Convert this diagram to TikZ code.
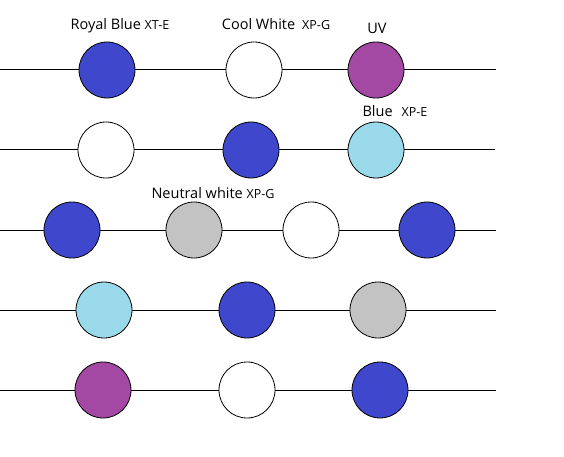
\documentclass[tikz,border=0pt]{standalone}
\usepackage{fontspec}
\setmainfont{Open Sans}
\definecolor{royal}{HTML}{3F48CC}
\definecolor{uvpurple}{HTML}{A349A4}
\definecolor{lightblue}{HTML}{99D9EA}
\definecolor{neutral}{HTML}{C3C3C3}
\tikzset{
  led/.style={circle, draw=black, line width=0.8pt, minimum size=56pt, inner sep=0pt},
  wire/.style={line width=1pt},
  ledlabel/.style={font=\fontsize{14.5}{16}\selectfont, inner sep=0pt}
}
\newcommand{\ledcode}[1]{{\fontsize{12.5}{14}\selectfont #1}}
\begin{document}
\begin{tikzpicture}[x=1pt, y=-1pt]
  \useasboundingbox (0,0) rectangle (564,457);
  % Row 1
  \coordinate (s1) at (0,70);
  \coordinate (e1) at (496,70);
  \node[led, fill=royal] (r1a) at (107,70) {};
  \node[led, fill=white] (r1b) at (254,70) {};
  \node[led, fill=uvpurple] (r1c) at (376,70) {};
  \draw[wire] (s1) -- (r1a) -- (r1b) -- (r1c) -- (e1);
  \node[ledlabel] (lroyal) at (120,26) {Royal Blue \ledcode{XT-E}};
  \node[ledlabel] (lcool) at (276,24) {Cool White\hspace{7pt}\ledcode{XP-G}};
  \node[ledlabel] (luv) at (377,28) {UV};
  % Row 2
  \coordinate (s2) at (0,150);
  \coordinate (e2) at (495,150);
  \node[led, fill=white] (r2a) at (106,150) {};
  \node[led, fill=royal] (r2b) at (251,150) {};
  \node[led, fill=lightblue] (r2c) at (376,150) {};
  \draw[wire] (s2) -- (r2a) -- (r2b) -- (r2c) -- (e2);
  \node[ledlabel] (lblue) at (395,111) {Blue\hspace{9pt}\ledcode{XP-E}};
  % Row 3
  \coordinate (s3) at (0,230);
  \coordinate (e3) at (496,230);
  \node[led, fill=royal] (r3a) at (72,230) {};
  \node[led, fill=neutral] (r3b) at (194,230) {};
  \node[led, fill=white] (r3c) at (311,230) {};
  \node[led, fill=royal] (r3d) at (427,230) {};
  \draw[wire] (s3) -- (r3a) -- (r3b) -- (r3c) -- (r3d) -- (e3);
  \node[ledlabel] (lneutral) at (213,193) {Neutral white \ledcode{XP-G}};
  % Row 4
  \coordinate (s4) at (0,310);
  \coordinate (e4) at (496,310);
  \node[led, fill=lightblue] (r4a) at (104,310) {};
  \node[led, fill=royal] (r4b) at (247,310) {};
  \node[led, fill=neutral] (r4c) at (378,310) {};
  \draw[wire] (s4) -- (r4a) -- (r4b) -- (r4c) -- (e4);
  % Row 5
  \coordinate (s5) at (0,390);
  \coordinate (e5) at (496,390);
  \node[led, fill=uvpurple] (r5a) at (103,390) {};
  \node[led, fill=white] (r5b) at (247,390) {};
  \node[led, fill=royal] (r5c) at (380,390) {};
  \draw[wire] (s5) -- (r5a) -- (r5b) -- (r5c) -- (e5);
\end{tikzpicture}
\end{document}
